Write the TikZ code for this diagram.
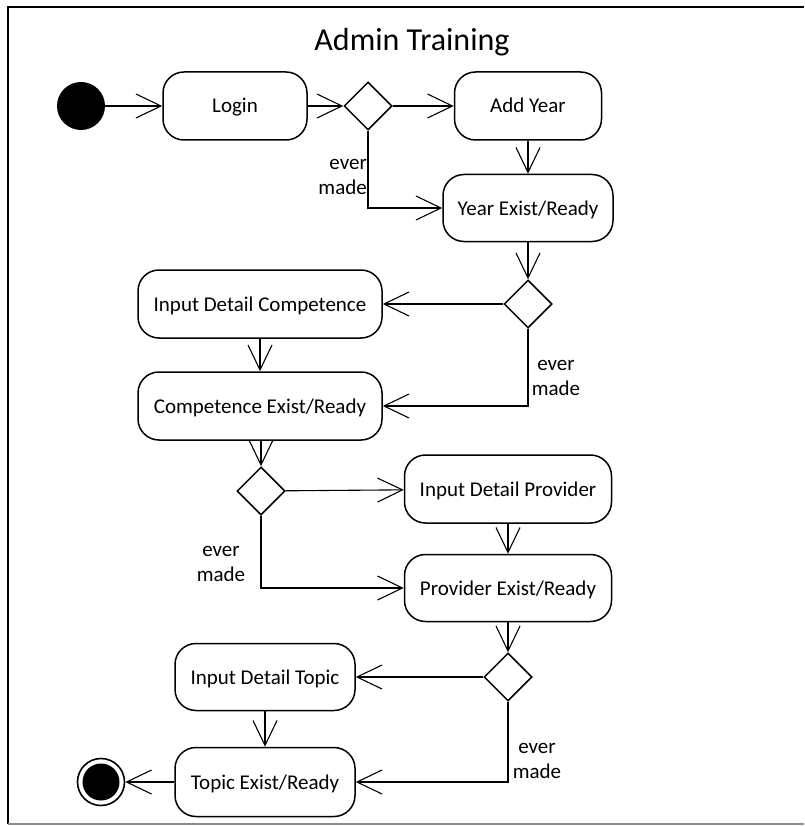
\documentclass[tikz,border=0pt]{standalone}
\usepackage{fontspec}
\setmainfont{Carlito}
\usetikzlibrary{arrows.meta,shapes.geometric}

\tikzset{
  act/.style={draw, line width=1.5pt, rounded corners=21pt, minimum height=68pt,
    inner sep=0pt, text height=17pt, text depth=3pt,
    font=\fontsize{21pt}{25pt}\selectfont},
  choice/.style={draw, diamond, line width=1.5pt, minimum width=48pt,
    minimum height=48pt, inner sep=0pt, aspect=1},
  flow/.style={line width=1.1pt, -{Straight Barb[length=25pt,width=24pt,line width=1.1pt]}},
  guard/.style={font=\fontsize{21pt}{25pt}\selectfont, align=center, inner sep=0pt},
}

\begin{document}
\begin{tikzpicture}[x=1pt,y=-1pt]
  \useasboundingbox (0,0) rectangle (804,826);

  % frame
  \draw[line width=2.2pt] (8,824) -- (8,7) -- (804,7);
  \draw[line width=1.6pt, black!45] (8,824) -- (804,824);

  % title
  \node[anchor=base, inner sep=0pt, font=\fontsize{32pt}{36pt}\selectfont] (title) at (412,51) {Admin Training};

  % start and end
  \node[circle, fill=black, minimum size=48pt, inner sep=0pt] (start) at (81,106) {};
  \node[circle, draw, line width=1.6pt, minimum size=47pt, inner sep=0pt] (final) at (101,782) {};
  \node[circle, fill=black, minimum size=37pt, inner sep=0pt] (finalin) at (101,782) {};

  % activities
  \node[act, minimum width=144pt] (login) at (235,106) {Login};
  \node[act, minimum width=147pt] (addyear) at (528,106) {Add Year};
  \node[act, minimum width=170pt, minimum height=67pt] (year) at (528,208) {Year Exist/Ready};
  \node[act, minimum width=244pt] (incomp) at (260,304) {Input Detail Competence};
  \node[act, minimum width=244pt] (comp) at (260,406) {Competence Exist/Ready};
  \node[act, minimum width=207pt] (inprov) at (508,489) {Input Detail Provider};
  \node[act, minimum width=207pt, minimum height=67pt] (prov) at (508,588) {Provider Exist/Ready};
  \node[act, minimum width=180pt, minimum height=67pt] (intopic) at (265,677) {Input Detail Topic};
  \node[act, minimum width=180pt, minimum height=69pt] (topic) at (265,782) {Topic Exist/Ready};

  % decisions
  \node[choice] (d1) at (368,106) {};
  \node[choice] (d2) at (528,304) {};
  \node[choice] (d3) at (261,491) {};
  \node[choice] (d4) at (508,677) {};

  % guards
  \node[guard, align=right, anchor=east] (g1) at (367,177) {ever\\made};
  \node[guard] (g2) at (556,378) {ever\\made};
  \node[guard] (g3) at (221,564) {ever\\made};
  \node[guard] (g4) at (537,761) {ever\\made};

  % flows
  \draw[flow] (start) -- (login);
  \draw[flow] (login) -- (d1);
  \draw[flow] (d1) -- (addyear);
  \draw[flow] (d1.south) |- (year.west);
  \draw[flow] (addyear) -- (year);
  \draw[flow] (year) -- (d2);
  \draw[flow] (d2) -- (incomp);
  \draw[flow] (d2.south) |- (comp.east);
  \draw[flow] (incomp) -- (comp);
  \draw[flow] (comp.south -| d3) -- (d3);
  \draw[flow] (d3) -- (inprov);
  \draw[flow] (d3.south) |- (prov.west);
  \draw[flow] (inprov) -- (prov);
  \draw[flow] (prov) -- (d4);
  \draw[flow] (d4) -- (intopic);
  \draw[flow] (d4.south) |- (topic.east);
  \draw[flow] (intopic) -- (topic);
  \draw[flow] (topic) -- (final);
\end{tikzpicture}
\end{document}
